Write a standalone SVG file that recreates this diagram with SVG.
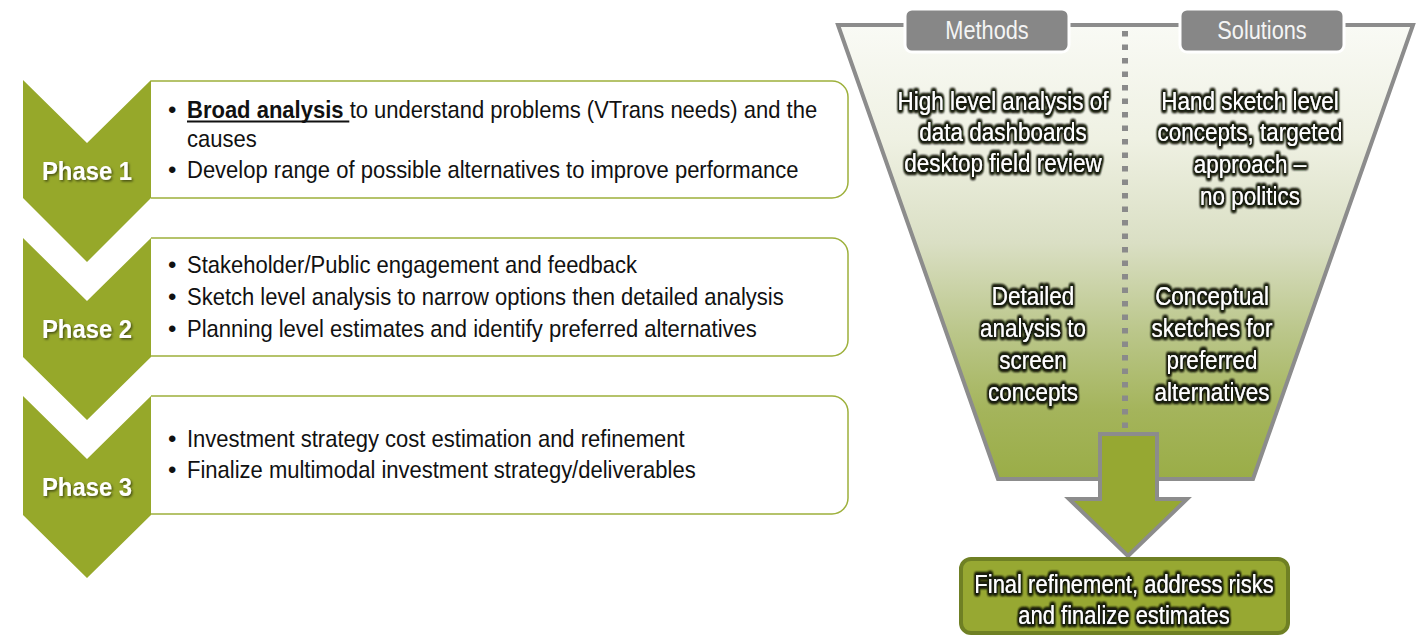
<svg xmlns="http://www.w3.org/2000/svg" width="1421" height="635" viewBox="0 0 1421 635">
  <defs>
    <linearGradient id="funnelFill" gradientUnits="userSpaceOnUse" x1="0" y1="25" x2="0" y2="479">
      <stop offset="0" stop-color="#F9FAF5"/>
      <stop offset="0.25" stop-color="#EFF1E3"/>
      <stop offset="0.48" stop-color="#DADFC4"/>
      <stop offset="0.68" stop-color="#BAC689"/>
      <stop offset="0.85" stop-color="#A4B45B"/>
      <stop offset="1" stop-color="#9AAD47"/>
    </linearGradient>
    <filter id="glow" x="-15%" y="-40%" width="130%" height="180%">
      <feMorphology in="SourceAlpha" operator="dilate" radius="1.6" result="thick"/>
      <feGaussianBlur in="thick" stdDeviation="1.4" result="soft"/>
      <feFlood flood-color="#1A1F0C"/>
      <feComposite in2="soft" operator="in" result="halo"/>
      <feMerge>
        <feMergeNode in="halo"/>
        <feMergeNode in="halo"/>
        <feMergeNode in="halo"/>
        <feMergeNode in="SourceGraphic"/>
      </feMerge>
    </filter>
    <filter id="shadow" x="-10%" y="-30%" width="130%" height="170%">
      <feDropShadow dx="1.5" dy="1.5" stdDeviation="1" flood-color="#000" flood-opacity="0.55"/>
    </filter>
  </defs>
  <style>
    .chevron { fill: #96A82A; }
    .box { fill: #FFFFFF; stroke: #9DB03B; stroke-width: 1.5; }
    .phase { font-family: "Liberation Sans", Arial, sans-serif; font-weight: bold; font-size: 26.5px; fill: #FFFFFF; text-anchor: middle; filter: url(#shadow); }
    .body { font-family: "Liberation Sans", Arial, sans-serif; font-size: 24px; fill: #111111; }
    .tab { fill: #878787; stroke: #FFFFFF; stroke-width: 3; }
    .tabtext { font-family: "Liberation Sans", Arial, sans-serif; font-size: 25px; fill: #F4F4F4; text-anchor: middle; }
    .glow { font-family: "Liberation Sans", Arial, sans-serif; font-size: 25px; fill: #FFFFFF; text-anchor: middle; filter: url(#glow); }
    .funnel { fill: url(#funnelFill); stroke: #8C8C8C; stroke-width: 4; }
    .divider { stroke: #8A8A8A; stroke-width: 6; stroke-dasharray: 5.5 8; fill: none; }
    .bigarrow { fill: #96A832; stroke: #8C8C8C; stroke-width: 4; }
    .final { fill: #97A832; stroke: #6F8024; stroke-width: 4; }
  </style>

  <!-- Phase 1 -->
  <g id="phase1">
    <path class="box" d="M151,81 H832 A16,16 0 0 1 848,97 V182 A16,16 0 0 1 832,198 H151"/>
    <path class="chevron" d="M23,80 L87,143 L151,80 L151,198 L87,262 L23,198 Z"/>
    <g transform="translate(87 0) scale(0.9 1)"><text class="phase" x="0" y="180">Phase 1</text></g>
    <text class="body" x="168" y="118">•</text>
    <text class="body" x="168" y="178">•</text>
    <g transform="translate(187 0) scale(0.917 1)">
      <text class="body" x="0" y="118"><tspan font-weight="bold">Broad analysis</tspan> to understand problems (VTrans needs) and the</text>
      <line x1="0" y1="121.5" x2="177" y2="121.5" stroke="#111111" stroke-width="1.9"/>
      <text class="body" x="0" y="147">causes</text>
      <text class="body" x="0" y="178">Develop range of possible alternatives to improve performance</text>
    </g>
  </g>

  <!-- Phase 2 -->
  <g id="phase2">
    <path class="box" d="M151,238 H832 A16,16 0 0 1 848,254 V340 A16,16 0 0 1 832,356 H151"/>
    <path class="chevron" d="M23,238 L87,301 L151,238 L151,357 L87,420 L23,357 Z"/>
    <g transform="translate(87 0) scale(0.9 1)"><text class="phase" x="0" y="338">Phase 2</text></g>
    <text class="body" x="168" y="273">•</text>
    <text class="body" x="168" y="305">•</text>
    <text class="body" x="168" y="337">•</text>
    <g transform="translate(187 0) scale(0.917 1)">
      <text class="body" x="0" y="273">Stakeholder/Public engagement and feedback</text>
      <text class="body" x="0" y="305">Sketch level analysis to narrow options then detailed analysis</text>
      <text class="body" x="0" y="337">Planning level estimates and identify preferred alternatives</text>
    </g>
  </g>

  <!-- Phase 3 -->
  <g id="phase3">
    <path class="box" d="M151,396 H832 A16,16 0 0 1 848,412 V498 A16,16 0 0 1 832,514 H151"/>
    <path class="chevron" d="M23,396 L87,459 L151,396 L151,515 L87,578 L23,515 Z"/>
    <g transform="translate(87 0) scale(0.9 1)"><text class="phase" x="0" y="496">Phase 3</text></g>
    <text class="body" x="168" y="447">•</text>
    <text class="body" x="168" y="478">•</text>
    <g transform="translate(187 0) scale(0.917 1)">
      <text class="body" x="0" y="447">Investment strategy cost estimation and refinement</text>
      <text class="body" x="0" y="478">Finalize multimodal investment strategy/deliverables</text>
    </g>
  </g>

  <!-- Funnel body with column divider -->
  <g id="funnel">
    <polygon class="funnel" points="838,25 1413,25 1253,479 998,479"/>
    <line class="divider" x1="1125" y1="31" x2="1125" y2="436"/>
  </g>

  <g id="methods-tab">
    <rect class="tab" x="905" y="9" width="164" height="43" rx="7"/>
    <g transform="translate(987 0) scale(0.87 1)"><text class="tabtext" x="0" y="39">Methods</text></g>
  </g>

  <g id="solutions-tab">
    <rect class="tab" x="1180" y="9" width="164" height="43" rx="7"/>
    <g transform="translate(1262 0) scale(0.87 1)"><text class="tabtext" x="0" y="39">Solutions</text></g>
  </g>

  <g id="methods-high" transform="translate(1003 0) scale(0.9 1)">
    <text class="glow" x="0" y="110">High level analysis of</text>
    <text class="glow" x="0" y="141">data dashboards</text>
    <text class="glow" x="0" y="172">desktop field review</text>
  </g>

  <g id="solutions-high" transform="translate(1250 0) scale(0.9 1)">
    <text class="glow" x="0" y="110">Hand sketch level</text>
    <text class="glow" x="0" y="141">concepts, targeted</text>
    <text class="glow" x="0" y="173">approach –</text>
    <text class="glow" x="0" y="205">no politics</text>
  </g>

  <g id="methods-detailed" transform="translate(1033 0) scale(0.9 1)">
    <text class="glow" x="0" y="305">Detailed</text>
    <text class="glow" x="0" y="337">analysis to</text>
    <text class="glow" x="0" y="369">screen</text>
    <text class="glow" x="0" y="401">concepts</text>
  </g>

  <g id="solutions-detailed" transform="translate(1212 0) scale(0.9 1)">
    <text class="glow" x="0" y="305">Conceptual</text>
    <text class="glow" x="0" y="337">sketches for</text>
    <text class="glow" x="0" y="369">preferred</text>
    <text class="glow" x="0" y="401">alternatives</text>
  </g>

  <!-- Block arrow from the funnel outlet to the final step -->
  <g id="connectors">
    <path class="bigarrow" d="M1100,434 H1157 V499 H1187 L1128,556 L1069,499 H1100 Z"/>
  </g>

  <g id="final">
    <rect class="final" x="961" y="559" width="327" height="74" rx="10"/>
    <g transform="translate(1124 0) scale(0.88 1)">
      <text class="glow" x="0" y="593">Final refinement, address risks</text>
      <text class="glow" x="0" y="624">and finalize estimates</text>
    </g>
  </g>
</svg>
